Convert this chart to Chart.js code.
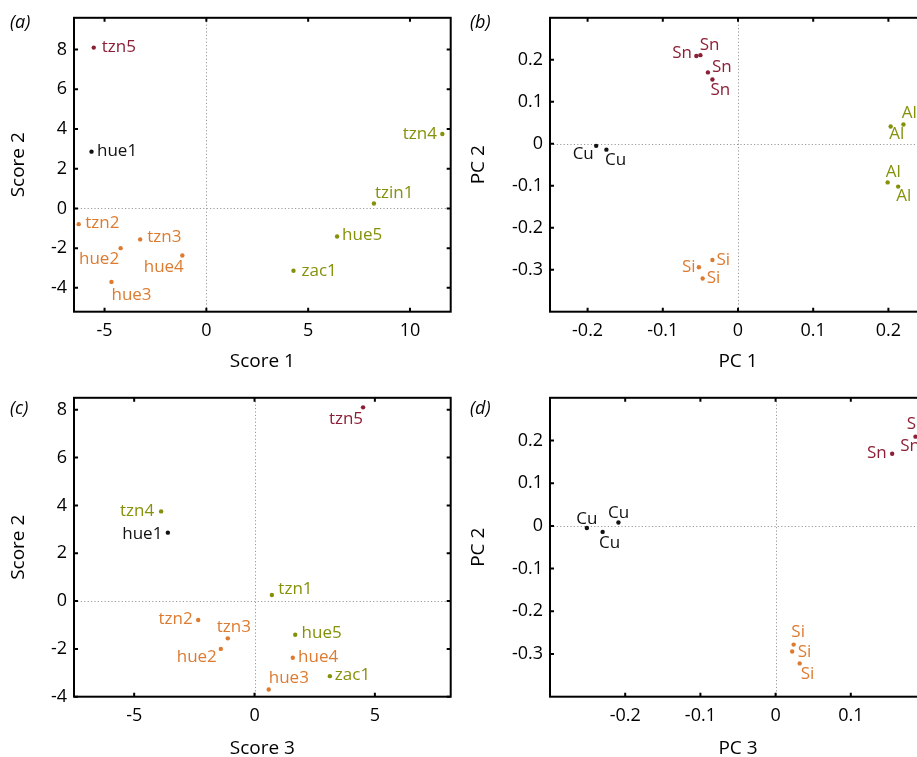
<!DOCTYPE html>
<html>
<head>
<meta charset="utf-8">
<script src="https://cdn.jsdelivr.net/npm/chart.js@4.4.1/dist/chart.umd.min.js"></script>
<style>
  html, body { margin: 0; padding: 0; background: #fff; overflow: hidden; width: 917px; height: 757px; }
  canvas { position: absolute; }
</style>
</head>
<body>
<canvas id="panelA" width="460" height="380" style="left:0;top:0"></canvas>
<canvas id="panelB" width="480" height="380" style="left:460px;top:0"></canvas>
<canvas id="panelC" width="460" height="390" style="left:0;top:380px"></canvas>
<canvas id="panelD" width="480" height="390" style="left:460px;top:380px"></canvas>
<script>
// ---- PCA scores of the samples ----
const samplesA = ['tzn5', 'hue1', 'tzn4', 'tzin1', 'hue5', 'zac1', 'tzn2', 'hue2', 'tzn3', 'hue4', 'hue3'];
const samplesC = ['tzn5', 'hue1', 'tzn4', 'tzn1', 'hue5', 'zac1', 'tzn2', 'hue2', 'tzn3', 'hue4', 'hue3'];
const sampleGroup = ['red', 'black', 'olive', 'olive', 'olive', 'olive', 'orange', 'orange', 'orange', 'orange', 'orange'];
const score1 = [-5.53, -5.64, 11.59, 8.23, 6.42, 4.28, -6.27, -4.21, -3.25, -1.18, -4.66];
const score2 = [8.10, 2.86, 3.75, 0.25, -1.41, -3.14, -0.79, -2.00, -1.56, -2.37, -3.70];
const score3 = [4.51, -3.60, -3.88, 0.72, 1.69, 3.13, -2.34, -1.40, -1.11, 1.59, 0.59];

// ---- PCA loadings of the elements ----
const elementsB = ['Sn', 'Sn', 'Sn', 'Sn', 'Cu', 'Cu', 'Al', 'Al', 'Al', 'Al', 'Si', 'Si', 'Si'];
const pc1B = [-0.0554, -0.050, -0.040, -0.034, -0.1886, -0.175, 0.203, 0.220, 0.199, 0.213, -0.034, -0.052, -0.047];
const pc2B = [0.209, 0.211, 0.170, 0.153, -0.005, -0.014, 0.041, 0.046, -0.092, -0.102, -0.277, -0.294, -0.321];

const elementsD = ['Cu', 'Cu', 'Cu', 'Si', 'Si', 'Si', 'Sn', 'Sn', 'Sn', 'Sn'];
const pc3D = [-0.251, -0.230, -0.209, 0.024, 0.022, 0.032, 0.155, 0.186, 0.197, 0.225];
const pc2D = [-0.005, -0.014, 0.008, -0.278, -0.294, -0.322, 0.169, 0.209, 0.211, 0.153];

// ---- tick values ----
const ticksScore1 = [-5, 0, 5, 10];
const ticksScore2 = [-4, -2, 0, 2, 4, 6, 8];
const ticksScore3 = [-5, 0, 5];
const ticksPC1 = [-0.2, -0.1, 0, 0.1, 0.2];
const ticksPC2 = [-0.3, -0.2, -0.1, 0, 0.1, 0.2];
const ticksPC3 = [-0.2, -0.1, 0, 0.1];

// ---- styling ----
const palette = { red: '#8c1f36', black: '#111111', olive: '#86910b', orange: '#dd7b30' };
const elementGroup = { Sn: 'red', Cu: 'black', Al: 'olive', Si: 'orange' };
const FONT = '"Open Sans", "Noto Sans", sans-serif';

// label placement beside each point: [dx, dy, textAlign]
const placeA = [[8, 0, 'left'], [5.5, 0, 'left'], [-5.5, 0, 'right'], [1, -10, 'left'], [5, -1.5, 'left'],
  [8, 0, 'left'], [6.5, -0.5, 'left'], [-1.5, 11, 'right'], [7, -2, 'left'], [1.5, 11.5, 'right'], [0, 13, 'left']];
const placeC = [[0, 11.5, 'right'], [-5.5, 1.3, 'right'], [-7, 0, 'right'], [6.5, -5.5, 'left'], [6.4, -2, 'left'],
  [5, -1, 'left'], [-5.5, -0.5, 'right'], [-4, 8.3, 'right'], [-11, -11, 'left'], [5.3, -1, 'left'], [0, -11, 'left']];
const placeB = [[-4.4, -2.7, 'left-r'], [-0.7, -10, 'left'], [4, -5.3, 'left'], [-2, 11, 'left'],
  [-2.4, 8.3, 'right'], [-1.4, 10.3, 'left'],
  [-1.4, 7.3, 'left'], [-1.6, -11.7, 'left'], [-2, -10, 'left'], [-2, 10, 'left'],
  [4, 0.5, 'left'], [-3.3, 0, 'right'], [4, 0, 'left']];
const placeD = [[0, -8.7, 'center'], [-3.7, 11.3, 'left'], [-10.4, -9, 'left'],
  [-2.3, -12, 'left'], [5.6, 0.7, 'left'], [1, 11, 'left'],
  [-5.4, -0.6, 'right'], [-15.3, 9, 'left'], [-17, -12, 'left'], [5, 0, 'left']];

function framePlugin(opts) {
  return {
    id: 'frame',
    beforeDatasetsDraw(chart) {
      const { ctx, chartArea: a, scales: { x, y } } = chart;
      ctx.save();
      ctx.strokeStyle = '#9a9a9a';
      ctx.lineWidth = 1;
      ctx.setLineDash([1.2, 2.2]);
      const x0 = Math.round(x.getPixelForValue(0)) + 0.5;
      const y0 = Math.round(y.getPixelForValue(0)) + 0.5;
      ctx.beginPath();
      ctx.moveTo(x0, a.top); ctx.lineTo(x0, a.bottom);
      ctx.moveTo(a.left, y0); ctx.lineTo(a.right, y0);
      ctx.stroke();
      ctx.restore();
    },
    afterDatasetsDraw(chart) {
      const { ctx, chartArea: a, scales: { x, y } } = chart;
      ctx.save();
      // inward ticks on all four sides
      ctx.strokeStyle = '#000';
      ctx.lineWidth = 2;
      ctx.beginPath();
      x.ticks.forEach(t => {
        const px = x.getPixelForValue(t.value);
        ctx.moveTo(px, a.bottom); ctx.lineTo(px, a.bottom - 4);
        ctx.moveTo(px, a.top); ctx.lineTo(px, a.top + 4);
      });
      y.ticks.forEach(t => {
        const py = y.getPixelForValue(t.value);
        ctx.moveTo(a.left, py); ctx.lineTo(a.left + 4, py);
        ctx.moveTo(a.right, py); ctx.lineTo(a.right - 4, py);
      });
      ctx.stroke();
      // frame
      ctx.strokeRect(a.left, a.top, a.right - a.left, a.bottom - a.top);
      // point labels
      const meta = chart.getDatasetMeta(0);
      ctx.font = '17px ' + FONT;
      ctx.textBaseline = 'middle';
      meta.data.forEach((pt, i) => {
        const [dx, dy, al] = opts.place[i];
        ctx.fillStyle = opts.colors[i];
        ctx.textAlign = al === 'left-r' ? 'right' : al;
        ctx.fillText(opts.labels[i], pt.x + dx, pt.y + dy);
      });
      // panel tag
      ctx.fillStyle = '#000';
      ctx.font = 'italic 18px ' + FONT;
      ctx.textAlign = 'left';
      ctx.fillText(opts.tag, 10, opts.tagY);
      ctx.restore();
    }
  };
}

function axis(min, max, tickValues, title, fitSize, horizontal, tickPad, titlePad) {
  return {
    type: 'linear',
    position: horizontal ? 'bottom' : 'left',
    min, max,
    grid: { display: false, drawTicks: false },
    border: { display: false },
    afterBuildTicks: s => { s.ticks = tickValues.map(v => ({ value: v })); },
    afterFit: s => { if (horizontal) s.height = fitSize; else s.width = fitSize; },
    ticks: {
      color: '#000',
      font: { family: FONT, size: 18 },
      padding: tickPad,
      maxRotation: 0,
      autoSkip: false,
      callback: v => String(v)
    },
    title: {
      display: true,
      text: title,
      color: '#000',
      font: { family: FONT, size: 19 },
      padding: horizontal ? { top: 0, bottom: titlePad } : { top: titlePad, bottom: 0 }
    }
  };
}

function makePanel(id, p) {
  const colors = p.groups.map(g => palette[g]);
  new Chart(document.getElementById(id), {
    type: 'scatter',
    data: {
      datasets: [{
        data: p.xs.map((v, i) => ({ x: v, y: p.ys[i] })),
        backgroundColor: colors,
        pointRadius: 2.2,
        pointBorderWidth: 0,
        borderWidth: 0,
        clip: false
      }]
    },
    options: {
      responsive: false,
      animation: false,
      events: [],
      layout: { padding: { top: p.top, right: p.right, left: 0, bottom: 0 } },
      plugins: { legend: { display: false }, tooltip: { enabled: false } },
      scales: {
        x: axis(p.xMin, p.xMax, p.xTicks, p.xTitle, p.xFit, true, 8, p.xTitlePad),
        y: axis(p.yMin, p.yMax, p.yTicks, p.yTitle, p.yFit, false, 7, 7.6)
      }
    },
    plugins: [framePlugin({ labels: p.labels, colors, place: p.place, tag: p.tag, tagY: p.tagY })]
  });
}

makePanel('panelA', {
  xs: score1, ys: score2, labels: samplesA, groups: sampleGroup, place: placeA,
  xMin: -6.5, xMax: 12, yMin: -5.2, yMax: 9.6, xTicks: ticksScore1, yTicks: ticksScore2,
  xTitle: 'Score 1', yTitle: 'Score 2', tag: '(a)', tagY: 23,
  top: 11, right: 9.3, xFit: 68.3, yFit: 74, xTitlePad: 6.6
});
makePanel('panelB', {
  xs: pc1B, ys: pc2B, labels: elementsB, groups: elementsB.map(e => elementGroup[e]), place: placeB,
  xMin: -0.25, xMax: 0.25, yMin: -0.4, yMax: 0.3, xTicks: ticksPC1, yTicks: ticksPC2,
  xTitle: 'PC 1', yTitle: 'PC 2', tag: '(b)', tagY: 23,
  top: 11, right: 14, xFit: 68.3, yFit: 90, xTitlePad: 6.6
});
makePanel('panelC', {
  xs: score3, ys: score2, labels: samplesC, groups: sampleGroup, place: placeC,
  xMin: -7.5, xMax: 8.15, yMin: -4, yMax: 8.5, xTicks: ticksScore3, yTicks: ticksScore2,
  xTitle: 'Score 3', yTitle: 'Score 2', tag: '(c)', tagY: 29,
  top: 16, right: 9.3, xFit: 73.3, yFit: 74, xTitlePad: 10.3
});
makePanel('panelD', {
  xs: pc3D, ys: pc2D, labels: elementsD, groups: elementsD.map(e => elementGroup[e]), place: placeD,
  xMin: -0.3, xMax: 0.2, yMin: -0.4, yMax: 0.3, xTicks: ticksPC3, yTicks: ticksPC2,
  xTitle: 'PC 3', yTitle: 'PC 2', tag: '(d)', tagY: 29,
  top: 16, right: 14, xFit: 73.3, yFit: 90, xTitlePad: 10.3
});
</script>
</body>
</html>
